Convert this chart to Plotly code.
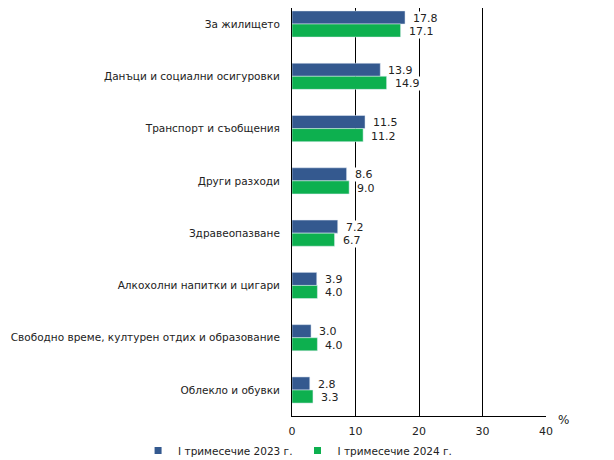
import plotly.graph_objects as go

# Категории и стойности (%)
kategorii = [
    "За жилището",
    "Данъци и социални осигуровки",
    "Транспорт и съобщения",
    "Други разходи",
    "Здравеопазване",
    "Алкохолни напитки и цигари",
    "Свободно време, културен отдих и образование",
    "Облекло и обувки",
]
stoinosti_2023 = [17.8, 13.9, 11.5, 8.6, 7.2, 3.9, 3.0, 2.8]
stoinosti_2024 = [17.1, 14.9, 11.2, 9.0, 6.7, 4.0, 4.0, 3.3]
ime_2023 = "I тримесечие 2023 г."
ime_2024 = "I тримесечие 2024 г."
tick_x = [0, 10, 20, 30, 40]

SINIO = "#34598f"
ZELENO = "#0db04f"
SHRIFT = "DejaVu Sans"

fig = go.Figure()
fig.add_trace(go.Bar(y=kategorii, x=stoinosti_2023, orientation="h", name=ime_2023,
                     marker_color=SINIO, showlegend=False))
fig.add_trace(go.Bar(y=kategorii, x=stoinosti_2024, orientation="h", name=ime_2024,
                     marker_color=ZELENO, showlegend=False))

# Легенда с малки квадратчета
for ime, cvqt in [(ime_2023, SINIO), (ime_2024, ZELENO)]:
    fig.add_trace(go.Scatter(x=[None], y=[None], mode="markers", name=ime,
                             marker=dict(symbol="square", size=7, color=cvqt)))

# Етикети със стойности (бял фон върху решетката)
anotacii = []
for kat, v1, v2 in zip(kategorii, stoinosti_2023, stoinosti_2024):
    for v, sdvig in [(v1, 6), (v2, -7.5)]:
        anotacii.append(dict(x=v, y=kat, text=f"{v:.1f}", showarrow=False,
                             xanchor="left", yanchor="middle", xshift=7, yshift=sdvig,
                             bgcolor="white", borderpad=0,
                             font=dict(family=SHRIFT, size=11, color="#222")))
anotacii.append(dict(x=1, y=0, xref="paper", yref="paper", text="%", showarrow=False,
                     xanchor="center", yanchor="middle", xshift=17, yshift=-4,
                     font=dict(family=SHRIFT, size=12, color="#222")))

# страницата има 8px отстъп, затова фигурата е малко по-малка
fig.update_layout(
    width=606,
    height=452,
    margin=dict(l=284, r=68, t=0, b=44, autoexpand=False),
    barmode="group",
    bargap=0.5,
    bargroupgap=0,
    paper_bgcolor="white",
    plot_bgcolor="white",
    font=dict(family=SHRIFT, size=11, color="#222"),
    annotations=anotacii,
    xaxis=dict(
        range=[0, 40],
        tickvals=tick_x,
        showgrid=True,
        gridcolor="black",
        gridwidth=1,
        showline=True,
        linecolor="black",
        linewidth=1,
        zeroline=False,
        ticks="",
        automargin=False,
        ticklabelstandoff=5,
        tickfont=dict(family=SHRIFT, size=11, color="#222"),
        fixedrange=True,
    ),
    yaxis=dict(
        categoryorder="array",
        categoryarray=kategorii,
        range=[7.497, -0.306],
        showline=True,
        linecolor="black",
        linewidth=1,
        showgrid=False,
        ticks="",
        automargin=False,
        ticklabelstandoff=9,
        tickfont=dict(family=SHRIFT, size=10.5, color="#222"),
    ),
    legend=dict(
        orientation="h",
        xref="paper",
        x=-0.606,
        xanchor="left",
        yref="paper",
        y=-0.049,
        yanchor="top",
        font=dict(family=SHRIFT, size=10.5, color="#222"),
        itemwidth=30,
    ),
)

fig.write_html("out.html")
